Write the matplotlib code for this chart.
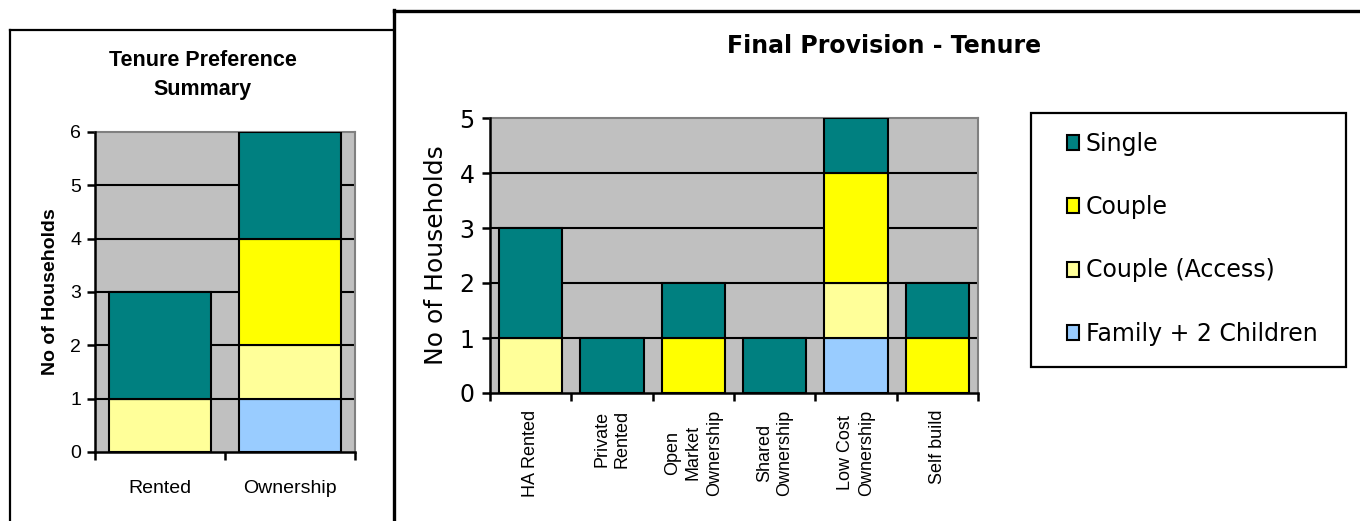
import matplotlib
matplotlib.use("Agg")
import matplotlib.pyplot as plt
from matplotlib.lines import Line2D
from matplotlib.patches import Rectangle
import numpy as np

# Tenure preference summary (left panel)
summary_categories = ["Rented", "Ownership"]
summary_single = [2, 2]
summary_couple = [0, 2]
summary_couple_access = [1, 1]
summary_family = [0, 1]

# Final provision by tenure (right panel)
provision_categories = ["HA Rented", "Private\nRented", "Open\nMarket\nOwnership",
                        "Shared\nOwnership", "Low Cost\nOwnership", "Self build"]
provision_single = [2, 1, 1, 1, 1, 1]
provision_couple = [0, 0, 1, 0, 2, 1]
provision_couple_access = [1, 0, 0, 0, 1, 0]
provision_family = [0, 0, 0, 0, 1, 0]

series_names = ["Family + 2 Children", "Couple (Access)", "Couple", "Single"]
series_colors = ["#99CCFF", "#FFFF99", "#FFFF00", "#008080"]

W, H = 1360, 521
fig = plt.figure(figsize=(W / 100, H / 100), dpi=100)
fig.patch.set_facecolor("white")


def fx(px):
    return px / W


def fy(py):
    return 1 - py / H


def stacked(ax, cats, stacks, ymax, bw):
    x = np.arange(len(cats))
    bottom = np.zeros(len(cats))
    handles = []
    for vals, name, col in zip(stacks, series_names, series_colors):
        vals = np.asarray(vals, dtype=float)
        h = ax.bar(x, vals, bw, bottom=bottom, color=col, edgecolor="black",
                   linewidth=1.5, label=name, zorder=3)
        handles.append(h)
        bottom += vals
    ax.set_facecolor("#C0C0C0")
    ax.set_xlim(-0.5, len(cats) - 0.5)
    ax.set_ylim(0, ymax)
    ax.set_yticks(range(ymax + 1))
    for v in range(1, ymax):
        ax.axhline(v, color="black", lw=1.5, zorder=1)
    for s in ["top", "right"]:
        ax.spines[s].set_color("#808080")
        ax.spines[s].set_linewidth(1.5)
    for s in ["left", "bottom"]:
        ax.spines[s].set_color("black")
        ax.spines[s].set_linewidth(1.8)
        ax.spines[s].set_zorder(4)
    ax.set_xticks(x)
    ax.set_xticks(np.arange(len(cats) + 1) - 0.5, minor=True)
    ax.tick_params(axis="x", which="major", length=0)
    ax.tick_params(axis="x", which="minor", length=6, width=1.8, direction="out")
    ax.tick_params(axis="y", length=6, width=1.8, direction="out")
    return handles


# ---- Left panel ----
axl = fig.add_axes([fx(95), fy(452), fx(355) - fx(95), fy(132) - fy(452)])
stacked(axl, summary_categories,
        [summary_family, summary_couple_access, summary_couple, summary_single], 6, 0.79)
axl.set_xticklabels(summary_categories, fontsize=14, family="Liberation Sans")
axl.tick_params(axis="x", which="major", pad=20)
axl.tick_params(axis="y", pad=4, labelsize=14, labelfontfamily="Liberation Sans")
axl.set_ylabel("No of Households", fontsize=14, fontweight="bold",
               family="Liberation Sans", labelpad=8)
fig.text(fx(203), fy(75), "Tenure Preference\nSummary", ha="center", va="center",
         fontsize=15.5, fontweight="bold", family="Liberation Sans", linespacing=1.5)

# ---- Right panel ----
axr = fig.add_axes([fx(490), fy(393), fx(978) - fx(490), fy(118) - fy(393)])
handles = stacked(axr, provision_categories,
                  [provision_family, provision_couple_access, provision_couple, provision_single],
                  5, 0.78)
axr.set_xticklabels(provision_categories, rotation=90, fontsize=13,
                    family="Liberation Sans", va="top", ha="center",
                    multialignment="center", linespacing=1.3)
axr.tick_params(axis="x", which="major", pad=12)
axr.tick_params(axis="y", pad=5, labelsize=17, labelfontfamily="DejaVu Sans")
axr.set_ylabel("No of Households", fontsize=18, family="DejaVu Sans", labelpad=8)
fig.text(fx(884), fy(46), "Final Provision - Tenure", ha="center", va="center",
         fontsize=17, fontweight="bold", family="DejaVu Sans")

# Legend: entries placed inside a separately drawn box
fig.add_artist(Rectangle((fx(1031), fy(367)), fx(1346) - fx(1031), fy(113) - fy(367),
                         transform=fig.transFigure, facecolor="white",
                         edgecolor="black", lw=1.6, zorder=2))
leg = fig.legend(handles[::-1], series_names[::-1], loc="upper left",
                 bbox_to_anchor=(fx(1067), fy(132)), frameon=False,
                 prop={"family": "DejaVu Sans", "size": 17},
                 handlelength=0.5, handleheight=0.6, handletextpad=0.3,
                 labelspacing=1.66, borderpad=0, borderaxespad=0)
leg.set_zorder(3)
for p in leg.get_patches():
    p.set_linewidth(1.5)

# ---- Panel frames ----
fig.add_artist(Line2D([fx(10), fx(10)], [fy(30), 0], color="black", lw=1.6))
fig.add_artist(Line2D([fx(10), fx(394)], [fy(30), fy(30)], color="black", lw=1.6))
fig.add_artist(Line2D([fx(394), fx(394)], [fy(10), 0], color="black", lw=2.4))
fig.add_artist(Line2D([fx(394), 1], [fy(11), fy(11)], color="black", lw=2.4))

fig.savefig("out.png", dpi=100)
